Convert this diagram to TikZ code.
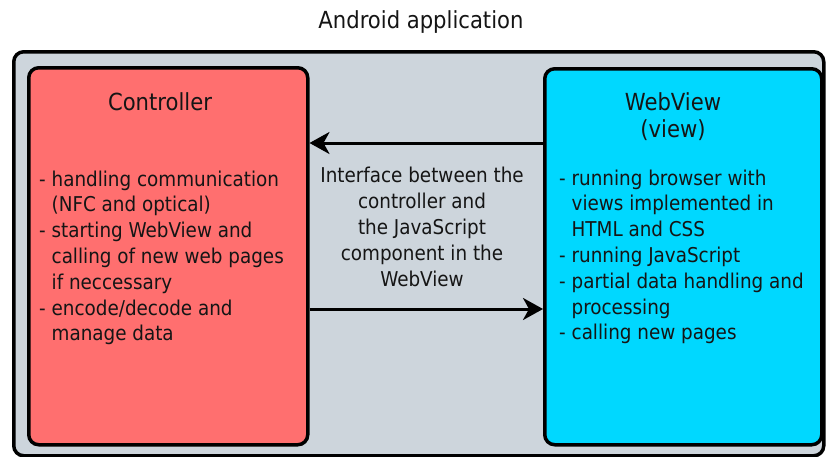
\documentclass[tikz,border=0pt]{standalone}
\usepackage{fontspec}
\setmainfont{DejaVu Sans Condensed}
\usetikzlibrary{arrows.meta}
\definecolor{outerfill}{HTML}{CDD5DC}
\definecolor{ctrlfill}{HTML}{FF6F6F}
\definecolor{webfill}{HTML}{00D8FF}
\definecolor{txt}{HTML}{151515}
\tikzset{
  box/.style={draw=black, line width=3.5pt, rounded corners=10pt, anchor=north west, inner sep=0pt},
  heading/.style={font=\fontsize{23.5}{28}\selectfont, inner sep=0pt, anchor=base, text=txt},
  body/.style={font=\fontsize{20.4}{25.8}\selectfont, inner sep=0pt, text=txt},
  flow/.style={line width=3pt, -{Stealth[length=20pt,width=22pt,inset=6pt]}},
}
\begin{document}
\begin{tikzpicture}[x=1pt,y=-1pt]
\useasboundingbox (0,0) rectangle (826,456);
\fill[white] (0,0) rectangle (826,456);
\node[box, fill=outerfill, minimum width=810pt, minimum height=404pt] (app) at (12,50) {};
\node[box, fill=ctrlfill, minimum width=279pt, minimum height=377pt] (ctrl) at (27,66) {};
\node[box, fill=webfill, minimum width=277pt, minimum height=376pt] (web) at (543,67) {};
\coordinate (a1) at (0,143);
\coordinate (a2) at (0,309);
\draw[flow] (web.west |- a1) -- (ctrl.east |- a1);
\draw[flow] (ctrl.east |- a2) -- (web.west |- a2);
\node[heading] (apptitle) at (421,28) {Android application};
\node[heading] (ctrltitle) at (160,110) {Controller};
\node[heading] (webtitle) at (673,110) {\fontsize{23.5}{27}\selectfont\begin{tabular}[t]{@{}c@{}}WebView\\(view)\end{tabular}};
\node[body, anchor=base west] (ctrllist) at (39,186) {\begin{tabular}[t]{@{}l@{\ }l@{}}-&handling communication\\ &(NFC and optical)\\ -&starting WebView and\\ &calling of new web pages\\ &if neccessary\\ -&encode/decode and\\ &manage data\end{tabular}};
\node[body, anchor=base west] (weblist) at (559,185) {\begin{tabular}[t]{@{}l@{\ }l@{}}-&running browser with\\ &views implemented in\\ &HTML and CSS\\ -&running JavaScript\\ -&partial data handling and\\ &processing\\ -&calling new pages\end{tabular}};
\node[body, anchor=base] (iface) at (422,182) {\fontsize{20.4}{26.2}\selectfont\begin{tabular}[t]{@{}c@{}}Interface between the\\controller and\\the JavaScript\\component in the\\WebView\end{tabular}};
\end{tikzpicture}
\end{document}
